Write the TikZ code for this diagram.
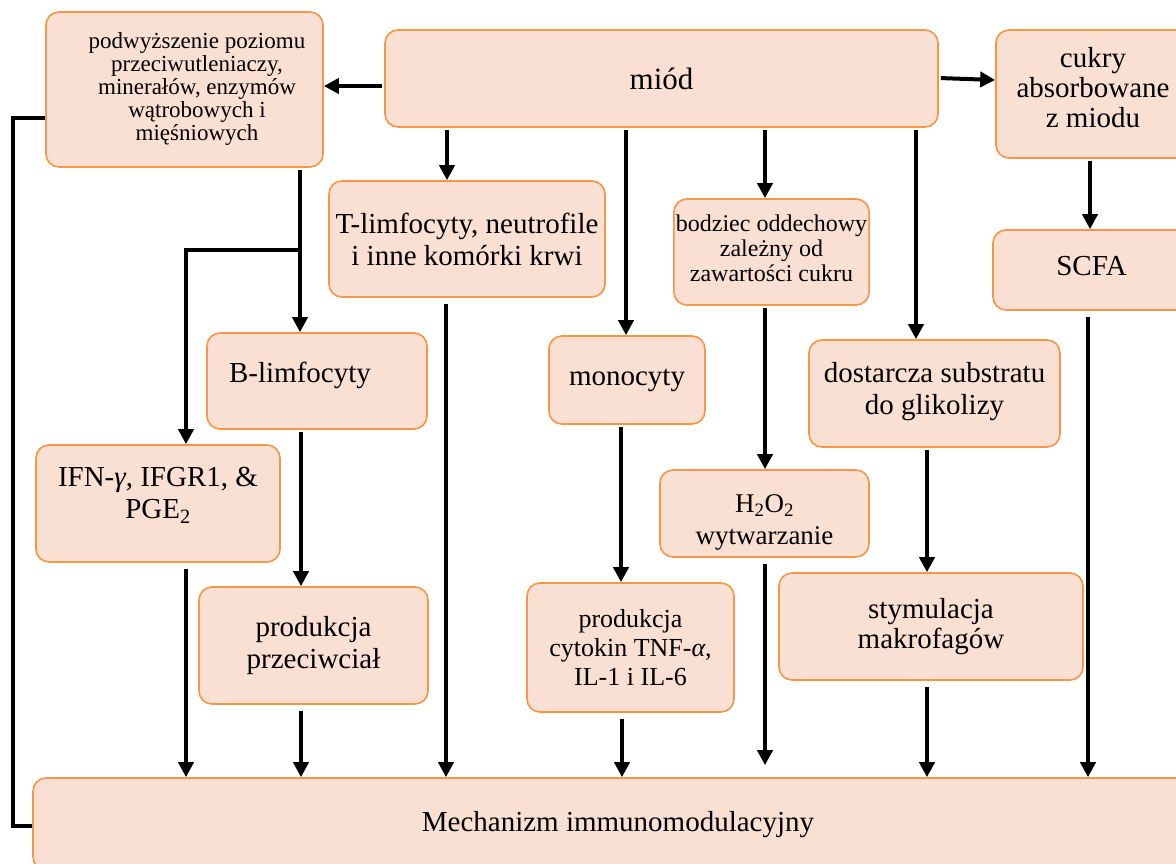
\documentclass[tikz,border=0pt]{standalone}
\usepackage{fontspec}
\setmainfont{Liberation Serif}
\usetikzlibrary{positioning,arrows.meta}

\definecolor{boxfill}{RGB}{250,223,211}
\definecolor{boxline}{RGB}{246,150,70}
% pusta linia na dole: podnosi tekst w ramce o #1
\newcommand{\lift}[1]{\\[\dimexpr 2\dimexpr#1\relax-\baselineskip\relax]\mbox{}}
% pusta linia na gorze: obniza tekst w ramce
\newcommand{\drop}[1]{\rule{0pt}{#1}\\[-\baselineskip]}

\begin{document}
\begin{tikzpicture}[x=1pt,y=-1pt,
    box/.style={rectangle,rounded corners=13pt,draw=boxline,fill=boxfill,line width=1.6pt,
                align=center,inner sep=2pt,font=\fontsize{29}{32}\selectfont},
    small/.style={font=\fontsize{23}{23}\selectfont},
    arr/.style={line width=4pt,-{Triangle[length=15pt,width=15pt]},shorten <=2pt},
    link/.style={line width=4pt}]
    \clip (0,0) rectangle (1176,863);

    % gorny rzad
    \node[box,small,minimum width=277pt,minimum height=155pt] (podw) at (184.5,89.5)
        {\hspace*{25pt}\begin{tabular}{@{}c@{}}podwyższenie poziomu\\przeciwutleniaczy,\\minerałów, enzymów\\wątrobowych i\\mięśniowych\end{tabular}};
    \node[box,minimum width=553pt,minimum height=97pt,font=\fontsize{31}{32}\selectfont] (miod) at (661.5,78.5) {miód};
    \node[box,minimum width=194pt,minimum height=128pt,font=\fontsize{29}{30}\selectfont] (cukry) at (1093,94)
        {cukry\\absorbowane\\z miodu\lift{7pt}};

    % drugi rzad
    \node[box,minimum width=276pt,minimum height=116pt] (tlim) at (467,239)
        {T-limfocyty, neutrofile\\i inne komórki krwi};
    \node[box,minimum width=189pt,minimum height=106pt,font=\fontsize{24}{25}\selectfont] (bodz) at (771.5,252)
        {bodziec oddechowy\\zależny od\\zawartości cukru\lift{4pt}};
    \node[box,minimum width=197pt,minimum height=80pt] (scfa) at (1091.5,270) {SCFA\lift{4pt}};

    % trzeci rzad
    \node[box,minimum width=220pt,minimum height=96pt] (blim) at (317,381)
        {B-limfocyty\hspace*{34pt}\lift{9pt}};
    \node[box,minimum width=156pt,minimum height=88pt] (mono) at (627,380) {monocyty};
    \node[box,minimum width=251pt,minimum height=107pt] (dost) at (934.5,393.5)
        {dostarcza substratu\\do glikolizy\lift{5pt}};
    \node[box,minimum width=244pt,minimum height=117pt] (ifn) at (158,503.5)
        {IFN-\textit{γ}, IFGR1, \&\\PGE\textsubscript{2}\lift{11pt}};
    \node[box,minimum width=209pt,minimum height=87pt,font=\fontsize{27}{32}\selectfont] (h2o2) at (764.5,513.5)
        {H\textsubscript{2}O\textsubscript{2}\rule{0pt}{36pt}\\wytwarzanie};

    % czwarty rzad
    \node[box,minimum width=229pt,minimum height=117pt] (prze) at (313.5,645.5)
        {produkcja\\przeciwciał};
    \node[box,minimum width=207pt,minimum height=129pt,font=\fontsize{26}{29}\selectfont] (cyto) at (630.5,647.5)
        {produkcja\\cytokin TNF-\textit{α},\\IL-1 i IL-6};
    \node[box,minimum width=304pt,minimum height=107pt,font=\fontsize{29}{30}\selectfont] (stym) at (931,626.5)
        {stymulacja\\makrofagów};

    \node[box,minimum width=1170pt,minimum height=92pt] (mech) at (618,824)
        {Mechanizm immunomodulacyjny\lift{3pt}};

    % strzalki od miodu
    \draw[arr] (miod.west |- 0,86) -- (podw.east |- 0,86);
    \draw[arr] (miod.east |- 0,78) -- (cukry.west |- 0,80);
    \draw[arr] (447,0 |- miod.south) -- (447,0 |- tlim.north);
    \draw[arr] (626,0 |- miod.south) -- (626,0 |- mono.north);
    \draw[arr] (765,0 |- miod.south) -- (765,0 |- bodz.north);
    \draw[arr] (916,0 |- miod.south) -- (916,0 |- dost.north);
    \draw[arr] (1090,0 |- cukry.south) -- (1090,0 |- scfa.north);

    % lewa galaz
    \coordinate (split) at (300,250);
    \draw[arr] (300,0 |- podw.south) -- (300,0 |- blim.north);
    \draw[arr] (split) -| (ifn.north -| 186,0);
    \draw[link] (podw.west |- 0,118) -- ++(-32,0) |- (mech.west |- 0,826);

    % srodkowe
    \draw[arr] (301,0 |- blim.south) -- (301,0 |- prze.north);
    \draw[arr] (621,0 |- mono.south) -- (621,0 |- cyto.north);
    \draw[arr] (765,0 |- bodz.south) -- (765,0 |- h2o2.north);
    \draw[arr] (927,0 |- dost.south) -- (927,0 |- stym.north);

    % do mechanizmu
    \foreach \sx/\src in {186/ifn,301/prze,446/tlim,622/cyto,927/stym,1088/scfa}{
        \draw[arr,shorten <=6pt] (\sx,0 |- \src.south) -- (\sx,0 |- mech.north);
    }
    \draw[arr,shorten <=6pt,shorten >=12pt] (765,0 |- h2o2.south) -- (765,0 |- mech.north);
\end{tikzpicture}
\end{document}
